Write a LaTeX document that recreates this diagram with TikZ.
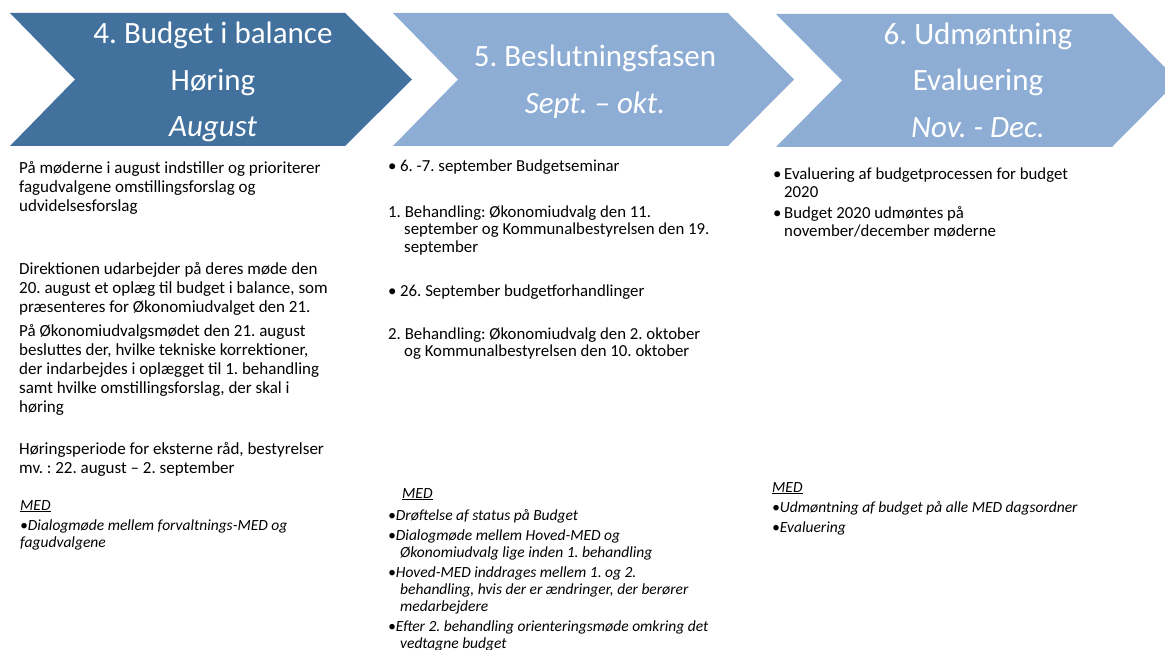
\documentclass[tikz,border=0pt]{standalone}
\usepackage{fontspec}
\setmainfont{Carlito}
\frenchspacing
\definecolor{phasedark}{RGB}{66,113,158}
\definecolor{phaselight}{RGB}{142,173,213}

\begin{document}
\begin{tikzpicture}[x=1pt,y=-1pt,
  phasetext/.style={white,align=center,inner sep=0pt,font=\fontsize{31}{46.5}\selectfont},
  bodytext/.style={anchor=north west,inner sep=0pt,align=left,font=\fontsize{17}{19}\selectfont},
  listtext/.style={anchor=north west,inner sep=0pt,align=left,font=\fontsize{16.8}{17.5}\selectfont},
  medtext/.style={anchor=north west,inner sep=0pt,align=left,font=\fontsize{15.5}{17}\selectfont\itshape}]
\useasboundingbox (0,0) rectangle (1165,650);

% the three phases
\fill[phasedark] (10,13) -- (345,13) -- (412,79.5) -- (345,146) -- (10,146) -- (75,79.5) -- cycle;
\fill[phaselight] (393,13) -- (728,13) -- (794,79.5) -- (728,146) -- (393,146) -- (458,79.5) -- cycle;
\fill[phaselight] (776,14) -- (1112,14) -- (1178,80.5) -- (1112,147) -- (776,147) -- (842,80.5) -- cycle;

\node[phasetext] (ph4) at (213,82) {4. Budget i balance\\Høring\\\textit{August}};
\node[phasetext] (ph5) at (595,81.5) {5. Beslutningsfasen\\\textit{Sept. – okt.}};
\node[phasetext] (ph6) at (978,80) {6. Udmøntning\\Evaluering\\\textit{Nov. - Dec.}};

% column 4
\node[bodytext] (b4a) at (19,161.5) {På møderne i august indstiller og prioriterer\\fagudvalgene omstillingsforslag og\\udvidelsesforslag};
\node[bodytext] (b4b) at (19,262.5) {Direktionen udarbejder på deres møde den\\20. august et oplæg til budget i balance, som\\præsenteres for Økonomiudvalget den 21.};
\node[bodytext] (b4c) at (19,324.5) {På Økonomiudvalgsmødet den 21. august\\besluttes der, hvilke tekniske korrektioner,\\der indarbejdes i oplægget til 1. behandling\\samt hvilke omstillingsforslag, der skal i\\høring};
\node[bodytext] (b4d) at (19,442.5) {Høringsperiode for eksterne råd, bestyrelser\\mv. : 22. august – 2. september};
\node[medtext] (m4) at (20,500) {\underline{MED}\\[3pt]•Dialogmøde mellem forvaltnings-MED og\\fagudvalgene};

% column 5
\node[listtext] (b5a) at (388,160) {\makebox[12pt][l]{•}6. -7. september Budgetseminar};
\node[listtext] (b5b) at (388,205.5) {1. Behandling: Økonomiudvalg den 11.\\\hspace*{16pt}september og Kommunalbestyrelsen den 19.\\\hspace*{16pt}september};
\node[listtext] (b5c) at (388,285) {\makebox[12pt][l]{•}26. September budgetforhandlinger};
\node[listtext] (b5d) at (388,327.5) {2. Behandling: Økonomiudvalg den 2. oktober\\\hspace*{16pt}og Kommunalbestyrelsen den 10. oktober};
\node[medtext] (m5) at (388,488) {\hspace*{14pt}\underline{MED}\\[5pt]•Drøftelse af status på Budget\\[3pt]•Dialogmøde mellem Hoved-MED og\\\hspace*{12pt}Økonomiudvalg lige inden 1. behandling\\[3pt]•Hoved-MED inddrages mellem 1. og 2.\\\hspace*{12pt}behandling, hvis der er ændringer, der berører\\\hspace*{12pt}medarbejdere\\[3pt]•Efter 2. behandling orienteringsmøde omkring det\\\hspace*{12pt}vedtagne budget};

% column 6
\node[listtext] (b6a) at (773,168) {\makebox[11pt][l]{•}Evaluering af budgetprocessen for budget\\\hspace*{11pt}2020\\[4pt]\makebox[11pt][l]{•}Budget 2020 udmøntes på\\\hspace*{11pt}november/december møderne};
\node[medtext] (m6) at (772,482) {\underline{MED}\\[3pt]•Udmøntning af budget på alle MED dagsordner\\[3pt]•Evaluering};
\end{tikzpicture}
\end{document}
